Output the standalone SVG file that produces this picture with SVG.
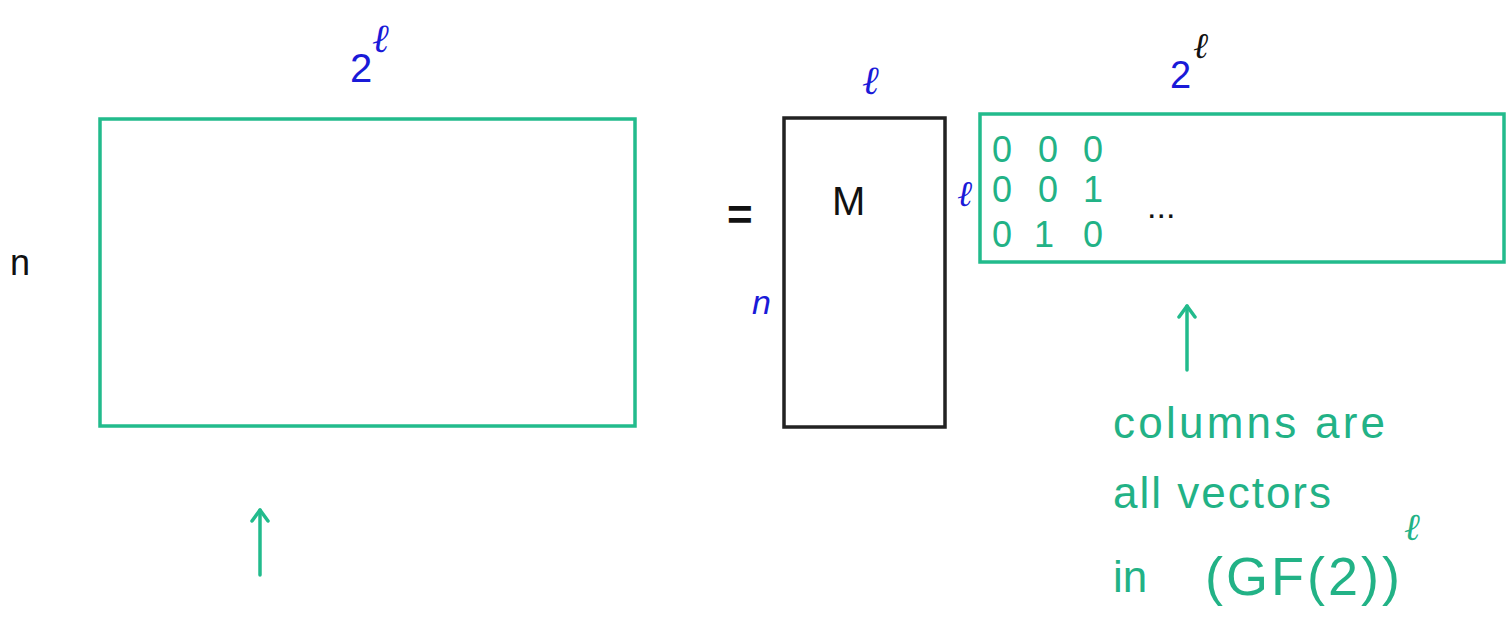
<svg xmlns="http://www.w3.org/2000/svg" width="1507" height="619" viewBox="0 0 1507 619">
<defs>
<style>
.g{fill:none;stroke:#22bb8c;stroke-width:3.5;stroke-linecap:round}
.k{fill:none;stroke:#222;stroke-width:3.5}
.tb{font-family:"Liberation Sans",sans-serif;fill:#1a1ad8}
.tk{font-family:"Liberation Sans",sans-serif;fill:#111}
.tg{font-family:"Liberation Sans",sans-serif;fill:#22b286}
.ell{font-family:"Liberation Serif",serif;font-style:italic}
</style>
<marker id="ah" viewBox="0 0 20 20" refX="16" refY="10" markerWidth="20" markerHeight="20" markerUnits="userSpaceOnUse" orient="auto">
<path d="M5,2 L16,10 L5,18" fill="none" stroke="#22bb8c" stroke-width="3.5" stroke-linecap="round" stroke-linejoin="round"/>
</marker>
</defs>
<rect width="1507" height="619" fill="#fff"/>
<g id="big-matrix">
<rect class="g" x="100" y="119" width="535" height="307"/>
<text class="tb" x="350" y="82" font-size="40">2</text>
<text class="tb ell" x="372" y="52" font-size="40">ℓ</text>
<text class="tk" x="10" y="275" font-size="36">n</text>
</g>
<g id="equals">
<text class="tk" x="727" y="230" font-size="44" font-weight="bold">=</text>
</g>
<g id="M-matrix">
<rect class="k" x="784" y="118" width="161" height="309"/>
<text class="tb ell" x="862" y="94" font-size="40">ℓ</text>
<text class="tk" x="832" y="215" font-size="40">M</text>
<text class="tb" x="752" y="314" font-size="34" font-style="italic">n</text>
</g>
<g id="vector-matrix">
<rect class="g" x="980" y="114" width="524" height="148"/>
<text class="tb ell" x="957" y="206" font-size="36">ℓ</text>
<text class="tb" x="1170" y="88" font-size="38">2</text>
<text class="tk ell" x="1193" y="58" font-size="36">ℓ</text>
<g class="tg" font-size="36">
<text x="992" y="162">0</text><text x="1038" y="162">0</text><text x="1083" y="162">0</text>
<text x="992" y="202">0</text><text x="1038" y="202">0</text><text x="1083" y="202">1</text>
<text x="992" y="247">0</text><text x="1034" y="247">1</text><text x="1083" y="247">0</text>
</g>
<text class="tk" x="1147" y="218" font-size="34">...</text>
</g>
<g id="caption">
<text class="tg" x="1113" y="438" font-size="44" textLength="272">columns are</text>
<text class="tg" x="1113" y="508" font-size="44" textLength="218">all vectors</text>
<text class="tg" x="1113" y="592" font-size="44">in</text>
<text class="tg" x="1205" y="595" font-size="54" textLength="195">(GF(2))</text>
<text class="tg ell" x="1404" y="540" font-size="38">ℓ</text>
</g>
<g id="connectors">
<line class="g" x1="260" y1="575" x2="260" y2="510" marker-end="url(#ah)"/>
<line class="g" x1="1187" y1="370" x2="1187" y2="306" marker-end="url(#ah)"/>
</g>
</svg>
